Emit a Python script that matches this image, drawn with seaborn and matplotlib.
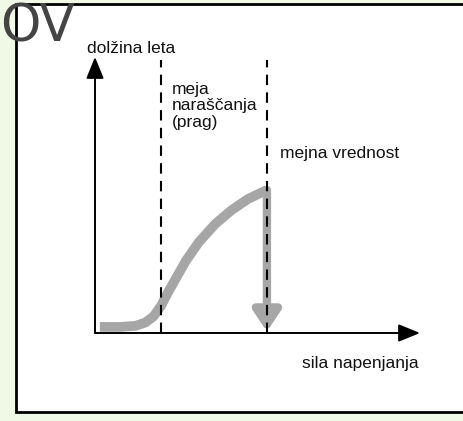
import numpy as np
import pandas as pd
import matplotlib
matplotlib.use("Agg")
import matplotlib.pyplot as plt
import seaborn as sns
from matplotlib.patches import Rectangle

# curve (x = sila napenjanja, y = dolžina leta, arbitrary units)
curve_x = [0.15, 0.77, 1.25, 1.55, 1.80, 2.03, 2.25, 2.49, 2.80, 3.20, 3.70, 4.20, 4.70, 5.05, 5.29]
curve_y = [0.22, 0.22, 0.26, 0.38, 0.60, 0.98, 1.48, 1.98, 2.62, 3.30, 3.95, 4.45, 4.85, 5.05, 5.18]
threshold_x = 2.03
limit_x = 5.29
limit_y = 5.18

x_label = "sila napenjanja"
y_label = "dolžina leta"
threshold_label = "meja\nnaraščanja\n(prag)"
limit_label = "mejna vrednost"
corner_text = "OV"

sns.set_theme(style="white")
plt.rcParams["font.family"] = ["Liberation Sans", "DejaVu Sans"]

W, H = 464, 421
fig = plt.figure(figsize=(W / 100, H / 100), dpi=100)
fig.patch.set_facecolor("#f0f9e6")

# white panel with black border
panel = Rectangle((16 / W, 9 / H), 1 - 16 / W + 0.01, (412 - 4) / H,
                  transform=fig.transFigure, facecolor="white",
                  edgecolor="black", lw=2, zorder=-5)
fig.patches.append(panel)

# chart axes: origin at the axis corner
x0, y0 = 95, 333
ax = fig.add_axes([x0 / W, (H - y0) / H, (420 - x0) / W, (y0 - 57) / H])
ax.set_zorder(1)
ax.set_xlim(0, 10)
ax.set_ylim(0, 10)
ax.patch.set_alpha(0)
for s in ax.spines.values():
    s.set_visible(False)
ax.set_xticks([])
ax.set_yticks([])

gray = "#a6a6a6"
df = pd.DataFrame({"x": curve_x, "y": curve_y})
sns.lineplot(data=df, x="x", y="y", ax=ax, color=gray, lw=7,
             solid_capstyle="butt", zorder=2)
ax.set_xlabel("")
ax.set_ylabel("")

# down arrow from the limit point to the x axis
ax.annotate("", xy=(limit_x, 0.05), xytext=(limit_x, limit_y),
            arrowprops=dict(arrowstyle="-|>,head_width=0.4,head_length=0.6",
                            lw=6, color=gray, mutation_scale=20,
                            shrinkA=0, shrinkB=0), zorder=2)

# dashed vertical lines
for xv in (threshold_x, limit_x):
    ax.plot([xv, xv], [0, 9.9], color="black", lw=1.5,
            dashes=(5, 3.5), zorder=3)

# axes with arrowheads
ax.annotate("", xy=(10, 0), xytext=(0, 0), annotation_clip=False,
            arrowprops=dict(arrowstyle="-|>,head_width=0.45,head_length=1.1",
                            lw=1.4, color="black", mutation_scale=12,
                            shrinkA=0, shrinkB=0), zorder=4)
ax.annotate("", xy=(0, 10), xytext=(0, 0), annotation_clip=False,
            arrowprops=dict(arrowstyle="-|>,head_width=0.45,head_length=1.1",
                            lw=1.4, color="black", mutation_scale=12,
                            shrinkA=0, shrinkB=0), zorder=4)

fs = 12.5
ax.text(-0.25, 10.05, y_label, fontsize=fs, ha="left", va="bottom", color="#111")
ax.text(9.95, -0.85, x_label, fontsize=fs, ha="right", va="top", color="#111")
ax.text(threshold_x + 0.33, 9.1, threshold_label, fontsize=fs, ha="left",
        va="top", linespacing=1.12, color="#111")
ax.text(limit_x + 0.4, 6.5, limit_label, fontsize=fs, ha="left",
        va="center", color="#111")

fig.text(0.0, 0.995, corner_text, fontsize=37, color="#444444",
         ha="left", va="top", family="DejaVu Sans", zorder=10)

fig.savefig("out.png", dpi=100, facecolor=fig.get_facecolor())
